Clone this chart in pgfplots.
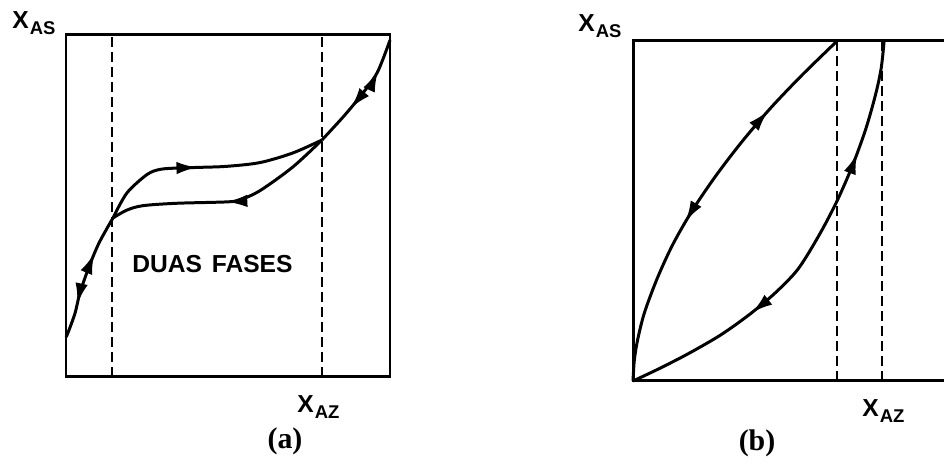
\documentclass[border=0pt]{standalone}
\usepackage{pgfplots}
\pgfplotsset{compat=1.18}
\usepackage{fontspec}
\setmainfont{Liberation Serif}
\newfontfamily\hv{Liberation Sans}
\usetikzlibrary{decorations.markings,arrows.meta}

% axis symbol with a lowered subscript, e.g. X_AS
\newcommand\xsym[1]{{\hv\fontsize{14}{15}\selectfont\bfseries X\hspace{0.6pt}\raisebox{-3.4pt}{\fontsize{10.5}{11}\selectfont #1}}}

\tikzset{
  fwd/.style={postaction={decorate},decoration={markings,
      mark=at position #1 with {\arrow{Latex[length=0.42cm,width=0.25cm]}}}},
  bwd/.style={postaction={decorate},decoration={markings,
      mark=at position #1 with {\arrowreversed{Latex[length=0.42cm,width=0.25cm]}}}},
  both/.style 2 args={postaction={decorate},decoration={markings,
      mark=at position #1 with {\arrowreversed{Latex[length=0.42cm,width=0.25cm]}},
      mark=at position #2 with {\arrow{Latex[length=0.42cm,width=0.25cm]}}}},
}

\pgfplotsset{
  panel/.style={
    scale only axis, width=6.48cm,
    xmin=0, xmax=1, ymin=0, ymax=1,
    xtick=\empty, ytick=\empty,
    axis line style={line width=1.7pt},
    clip=false,
  },
  curve/.style={black, line width=1.7pt, smooth, tension=0.5, no marks},
  phase/.style={black, line width=1.3pt, dash pattern=on 0.2cm off 0.1cm},
}

% (a) rising branch from the origin side up to the left phase boundary
\pgfplotstableread{
x y
0.000 0.117
0.006 0.129
0.028 0.187
0.043 0.246
0.071 0.322
0.102 0.392
0.145 0.465
}\aRise
% (a) upper branch across the two-phase region
\pgfplotstableread{
x y
0.145 0.465
0.188 0.538
0.250 0.592
0.290 0.607
0.343 0.611
0.414 0.613
0.497 0.616
0.599 0.627
0.700 0.655
0.790 0.693
}\aUpper
% (a) lower branch across the two-phase region
\pgfplotstableread{
x y
0.145 0.465
0.188 0.488
0.238 0.501
0.343 0.508
0.497 0.512
0.537 0.518
0.599 0.545
0.700 0.614
0.790 0.693
}\aLower
% (a) branch beyond the right phase boundary
\pgfplotstableread{
x y
0.790 0.693
0.855 0.760
0.907 0.819
0.960 0.889
1.000 0.985
}\aTop
% (b) upper (concave) branch
\pgfplotstableread{
x y
0.000 0.000
0.004 0.060
0.014 0.120
0.035 0.200
0.074 0.300
0.122 0.400
0.182 0.500
0.253 0.600
0.333 0.700
0.422 0.800
0.522 0.900
0.630 1.000
}\bUpper
% (b) lower (convex) branch
\pgfplotstableread{
x y
0.000 0.000
0.080 0.036
0.170 0.080
0.270 0.135
0.360 0.196
0.440 0.260
0.510 0.330
0.575 0.430
0.630 0.530
0.678 0.635
0.718 0.740
0.748 0.840
0.766 0.920
0.775 1.000
}\bLower

\begin{document}
\begin{tikzpicture}

% ---------------- (a) ----------------
\begin{axis}[panel, height=6.84cm, at={(1.32cm,1.94cm)}, anchor=south west]
  \addplot[phase] coordinates {(0.143,0) (0.143,1)};
  \addplot[phase] coordinates {(0.790,0) (0.790,1)};
  \addplot[curve, both={0.27}{0.69}] table {\aRise};
  \addplot[curve, fwd=0.455] table {\aUpper};
  \addplot[curve, bwd=0.50] table {\aLower};
  \addplot[curve, both={0.35}{0.73}] table {\aTop};
\end{axis}

% ---------------- (b) ----------------
\begin{axis}[panel, height=6.80cm, at={(12.66cm,1.86cm)}, anchor=south west]
  \addplot[phase] coordinates {(0.630,0) (0.630,1)};
  \addplot[phase] coordinates {(0.768,0) (0.768,1)};
  \addplot[curve, both={0.417}{0.758}] table {\bUpper};
  \addplot[curve, both={0.307}{0.741}] table {\bLower};
\end{axis}

% labels
\node[anchor=base west, inner sep=0] at (0.24cm,8.90cm) {\xsym{AS}};
\node[anchor=base west, inner sep=0] at (5.94cm,1.22cm) {\xsym{AZ}};
\node[anchor=base west, inner sep=0] at (11.56cm,8.84cm) {\xsym{AS}};
\node[anchor=base west, inner sep=0] at (17.24cm,1.14cm) {\xsym{AZ}};
\node[anchor=base west, inner sep=0] at (2.64cm,4.02cm)
  {\hv\fontsize{14}{15}\selectfont\bfseries DUAS\hspace{0.4em}FASES};
\node[inner sep=0] at (5.70cm,0.66cm) {\fontsize{17}{18}\selectfont\bfseries (a)};
\node[inner sep=0] at (15.14cm,0.62cm) {\fontsize{17}{18}\selectfont\bfseries (b)};

\pgfresetboundingbox
\path[use as bounding box] (0,0) rectangle (18.88cm,9.48cm);
\end{tikzpicture}
\end{document}
